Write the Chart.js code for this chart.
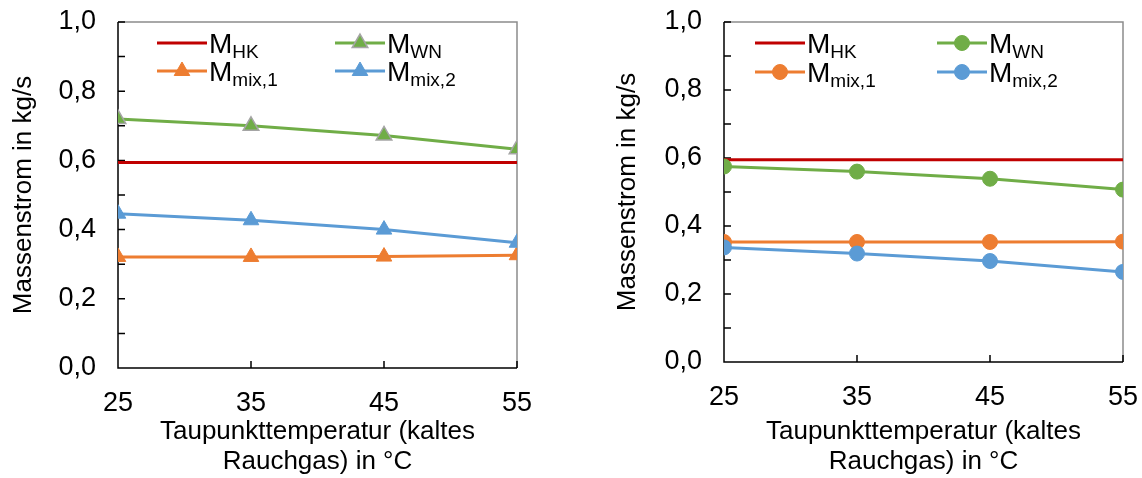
<!DOCTYPE html>
<html>
<head>
<meta charset="utf-8">
<script src="https://cdn.jsdelivr.net/npm/chart.js@4.4.0/dist/chart.umd.min.js"></script>
<style>
  body { margin:0; background:#fff; }
  .wrap { display:flex; width:1142px; height:478px; }
  canvas { display:block; }
</style>
</head>
<body>
<div class="wrap">
  <canvas id="chart_left" width="571" height="478"></canvas>
  <canvas id="chart_right" width="571" height="478"></canvas>
</div>
<script>
// Taupunkttemperatur in °C
const temps = [25, 35, 45, 55]
const yTicks = [0, 0.2, 0.4, 0.6, 0.8, 1.0]
const yMinor = [0.1, 0.3, 0.5, 0.7, 0.9]
const names = ['HK', 'WN', 'mix,1', 'mix,2']

// linkes Diagramm (Dreiecke)
const hkLeft = [0.594, 0.594, 0.594, 0.594]
const wnLeft = [0.720, 0.700, 0.672, 0.632]
const mix1Left = [0.321, 0.321, 0.322, 0.326]
const mix2Left = [0.446, 0.427, 0.400, 0.362]

// rechtes Diagramm (Kreise)
const hkRight = [0.595, 0.595, 0.595, 0.595]
const wnRight = [0.575, 0.560, 0.539, 0.507]
const mix1Right = [0.353, 0.353, 0.353, 0.354]
const mix2Right = [0.337, 0.319, 0.297, 0.265]

const RED = '#C00000'
const GREEN = '#70AD47'
const ORANGE = '#ED7D31'
const BLUE = '#5B9BD5'
const GREY = '#A5A5A5'
const FONT = '"Liberation Sans", Arial, sans-serif'

const series = (values, color, style, radius, border) => ({
    data: values.map((v, i) => ({x: temps[i], y: v})),
    borderColor: color,
    borderWidth: 3,
    pointStyle: style,
    pointRadius: radius,
    pointHoverRadius: radius,
    pointBackgroundColor: color,
    pointBorderColor: border || color,
    pointBorderWidth: border ? 1.5 : 1,
    tension: 0
})

// Rahmen und nach innen zeigende Teilstriche
const framePlugin = {
    id: 'frame',
    beforeDatasetsDraw(chart) {
        const {ctx, chartArea: a, scales} = chart
        ctx.save()
        ctx.lineWidth = 1.5
        ctx.strokeStyle = '#8C8C8C'
        ctx.beginPath()
        ctx.moveTo(a.left, a.top); ctx.lineTo(a.right, a.top); ctx.lineTo(a.right, a.bottom)
        ctx.stroke()
        ctx.strokeStyle = '#000'
        ctx.beginPath()
        ctx.moveTo(a.left, a.top); ctx.lineTo(a.left, a.bottom); ctx.lineTo(a.right, a.bottom)
        yTicks.concat(yMinor).forEach(v => {
            const y = scales.y.getPixelForValue(v)
            ctx.moveTo(a.left, y); ctx.lineTo(a.left + 7, y)
        })
        temps.forEach(t => {
            const x = scales.x.getPixelForValue(t)
            ctx.moveTo(x, a.bottom); ctx.lineTo(x, a.bottom - 7)
        })
        ctx.stroke()
        ctx.restore()
    }
}

// Legende mit tiefgestellten Indizes
const legendPlugin = {
    id: 'subLegend',
    afterDraw(chart, args, opts) {
        const ctx = chart.ctx
        const a = chart.chartArea
        names.forEach((name, i) => {
            const ds = chart.data.datasets[i]
            const x0 = a.left + opts.cols[i % 2]
            const y = opts.rows[Math.floor(i / 2)]
            ctx.save()
            ctx.strokeStyle = ds.borderColor
            ctx.lineWidth = 3
            ctx.beginPath()
            ctx.moveTo(x0, y); ctx.lineTo(x0 + 50, y)
            ctx.stroke()
            if (ds.pointRadius > 0) {
                ctx.fillStyle = ds.pointBackgroundColor
                ctx.strokeStyle = ds.pointBorderColor
                ctx.lineWidth = ds.pointBorderWidth
                Chart.helpers.drawPoint(ctx, {pointStyle: ds.pointStyle, radius: ds.pointRadius, borderWidth: ds.pointBorderWidth, rotation: 0}, x0 + 25, y)
            }
            ctx.fillStyle = '#000'
            ctx.textAlign = 'left'
            ctx.textBaseline = 'alphabetic'
            ctx.font = '28px ' + FONT
            const tx = x0 + 52
            ctx.fillText('M', tx, y + 10)
            const w = ctx.measureText('M').width
            ctx.font = '19px ' + FONT
            ctx.fillText(name, tx + w, y + 15)
            ctx.restore()
        })
    }
}

const makeChart = (id, sets, lay) => {
    const ctx = document.getElementById(id)
    return new Chart(ctx, {
        type: 'line',
        data: {datasets: sets.map((s, i) => ({...s, order: sets.length - i}))},
        options: {
            responsive: false,
            animation: false,
            devicePixelRatio: 1,
            layout: {padding: {top: lay.top, right: lay.right, left: 0, bottom: 0}},
            plugins: {legend: {display: false}, tooltip: {enabled: false}, subLegend: lay.legend},
            scales: {
                x: {
                    type: 'linear', min: 25, max: 55,
                    afterBuildTicks: s => { s.ticks = temps.map(v => ({value: v})) },
                    afterFit: s => { s.height = lay.xHeight; s.paddingLeft = 0; s.paddingRight = 0 },
                    grid: {display: false, drawTicks: false},
                    border: {display: false},
                    ticks: {color: '#000', padding: 19, maxRotation: 0, font: {family: FONT, size: 27}},
                    title: {display: true, text: ['Taupunkttemperatur (kaltes', 'Rauchgas) in °C'], color: '#000',
                        font: {family: FONT, size: 26, lineHeight: 1.154}, padding: {top: 0, bottom: 1}}
                },
                y: {
                    min: 0, max: 1,
                    afterBuildTicks: s => { s.ticks = yTicks.map(v => ({value: v})) },
                    afterFit: s => { s.width = lay.yWidth; s.paddingTop = 0; s.paddingBottom = 0 },
                    grid: {display: false, drawTicks: false},
                    border: {display: false},
                    ticks: {color: '#000', padding: 22, font: {family: FONT, size: 27},
                        callback: v => v.toFixed(1).replace('.', ',')},
                    title: {display: true, text: 'Massenstrom in kg/s', color: '#000',
                        font: {family: FONT, size: 26, lineHeight: 1.2}, padding: {top: lay.yTitle, bottom: 0}}
                }
            }
        },
        plugins: [framePlugin, legendPlugin]
    })
}

makeChart('chart_left', [
    series(hkLeft, RED, false, 0),
    series(wnLeft, GREEN, 'triangle', 9, GREY),
    series(mix1Left, ORANGE, 'triangle', 9),
    series(mix2Left, BLUE, 'triangle', 9)
], {top: 22, right: 54, xHeight: 110, yWidth: 118, yTitle: 8,
    legend: {cols: [39, 217], rows: [43, 71]}})

makeChart('chart_right', [
    series(hkRight, RED, false, 0),
    series(wnRight, GREEN, 'circle', 7.5),
    series(mix1Right, ORANGE, 'circle', 7.5),
    series(mix2Right, BLUE, 'circle', 7.5)
], {top: 22, right: 19, xHeight: 116, yWidth: 153, yTitle: 41,
    legend: {cols: [31, 213], rows: [43, 72]}})
</script>
</body>
</html>
